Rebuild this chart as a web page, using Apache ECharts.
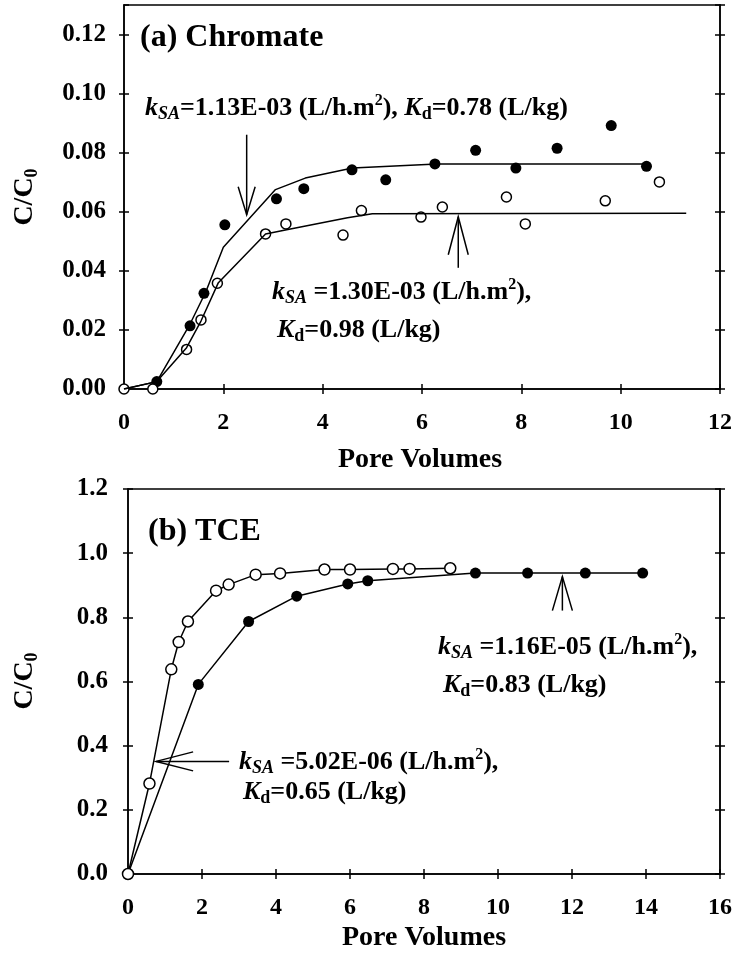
<!DOCTYPE html>
<html>
<head>
<meta charset="utf-8">
<script src="https://cdn.jsdelivr.net/npm/echarts@6/dist/echarts.min.js"></script>
<style>
  html, body { margin: 0; padding: 0; background: #fff; }
  #main { width: 735px; height: 960px; }
</style>
</head>
<body>
<div id="main"></div>
<script>
// (a) Chromate - measured points
const crFilledX = [0.66, 1.33, 1.61, 2.03, 3.07, 3.62, 4.59, 5.27, 6.26, 7.08, 7.89, 8.72, 9.81, 10.52]
const crFilledY = [0.0025, 0.0214, 0.0324, 0.0556, 0.0644, 0.0678, 0.0742, 0.0708, 0.0762, 0.0808, 0.0748, 0.0815, 0.0892, 0.0754]
const crOpenX = [0, 0.58, 1.26, 1.55, 1.88, 2.85, 3.26, 4.41, 4.78, 5.98, 6.41, 7.70, 8.08, 9.69, 10.78]
const crOpenY = [0, 0, 0.0134, 0.0234, 0.0358, 0.0525, 0.0559, 0.0521, 0.0604, 0.0582, 0.0616, 0.0650, 0.0559, 0.0637, 0.0701]
// (a) model fits
const crFitUpperX = [0, 0.66, 1.33, 1.65, 2.0, 3.05, 3.65, 4.6, 6.3, 10.52]
const crFitUpperY = [0, 0.0025, 0.022, 0.033, 0.048, 0.0675, 0.0714, 0.0748, 0.0762, 0.0762]
const crFitLowerX = [0, 0.66, 1.26, 1.55, 1.9, 2.85, 3.3, 4.5, 5.0, 11.32]
const crFitLowerY = [0, 0.0025, 0.014, 0.023, 0.036, 0.0525, 0.054, 0.058, 0.0593, 0.0595]

// (b) TCE
const tceOpenX = [0, 0.58, 1.17, 1.37, 1.62, 2.38, 2.72, 3.45, 4.11, 5.31, 6.0, 7.16, 7.61, 8.71]
const tceOpenY = [0, 0.282, 0.638, 0.723, 0.787, 0.883, 0.902, 0.933, 0.937, 0.949, 0.949, 0.951, 0.951, 0.953]
const tceFilledX = [0, 1.90, 3.26, 4.56, 5.94, 6.48, 9.39, 10.8, 12.36, 13.91]
const tceFilledY = [0, 0.591, 0.787, 0.866, 0.904, 0.914, 0.938, 0.938, 0.938, 0.938]

const serif = "'Liberation Serif', 'Times New Roman', serif"
const black = '#000'

const zip = (xs, ys) => xs.map((x, i) => [x, ys[i]])

const line = { color: black, width: 1.5 }

function xAxes(grid, max) {
  const base = {
    gridIndex: grid, type: 'value', min: 0, max: max, interval: 2,
    axisLine: { onZero: false, lineStyle: line },
    splitLine: { show: false }
  }
  return [
    Object.assign({}, base, {
      position: 'bottom',
      axisTick: { length: 5, lineStyle: line },
      axisLabel: { color: black, fontFamily: serif, fontWeight: 'bold', fontSize: 24, margin: 22 }
    }),
    Object.assign({}, base, {
      position: 'bottom',
      axisTick: { inside: true, length: 5, lineStyle: line },
      axisLabel: { show: false }
    }),
    Object.assign({}, base, {
      position: 'top',
      axisTick: { show: false },
      axisLabel: { show: false }
    })
  ]
}

function yAxes(grid, max, interval, digits, margin) {
  const base = {
    gridIndex: grid, type: 'value', min: 0, max: max, interval: interval,
    axisLine: { onZero: false, lineStyle: line },
    splitLine: { show: false }
  }
  return [
    Object.assign({}, base, {
      position: 'left',
      axisTick: { length: 5, lineStyle: line },
      axisLabel: {
        color: black, fontFamily: serif, fontWeight: 'bold', fontSize: 25, margin: margin,
        showMaxLabel: digits === 1,
        formatter: v => v.toFixed(digits)
      }
    }),
    Object.assign({}, base, {
      position: 'left',
      axisTick: { inside: true, length: 5, lineStyle: line },
      axisLabel: { show: false }
    }),
    Object.assign({}, base, {
      position: 'right',
      axisTick: { length: 5, lineStyle: line },
      axisLabel: { show: false }
    }),
    Object.assign({}, base, {
      position: 'right',
      axisTick: { inside: true, length: 5, lineStyle: line },
      axisLabel: { show: false }
    })
  ]
}

const chart = echarts.init(document.getElementById('main'))

chart.setOption({
  animation: false,
  backgroundColor: '#fff',
  grid: [
    { left: 124, right: 14, top: 5, bottom: 571 },
    { left: 128, right: 14, top: 489, bottom: 86 }
  ],
  xAxis: xAxes(0, 12).concat(xAxes(1, 16)),
  yAxis: yAxes(0, 0.13, 0.02, 2, 18).concat(yAxes(1, 1.2, 0.2, 1, 20)),
  series: [
    {
      type: 'line', xAxisIndex: 0, yAxisIndex: 0,
      data: zip(crFitUpperX, crFitUpperY),
      showSymbol: false, lineStyle: line
    },
    {
      type: 'line', xAxisIndex: 0, yAxisIndex: 0,
      data: zip(crFitLowerX, crFitLowerY),
      showSymbol: false, lineStyle: line
    },
    {
      type: 'scatter', xAxisIndex: 0, yAxisIndex: 0,
      data: zip(crFilledX, crFilledY),
      symbolSize: 11, itemStyle: { color: black, opacity: 1 }
    },
    {
      type: 'scatter', xAxisIndex: 0, yAxisIndex: 0,
      data: zip(crOpenX, crOpenY),
      symbolSize: 10, itemStyle: { color: '#fff', borderColor: black, borderWidth: 1.5, opacity: 1 }
    },
    {
      type: 'line', xAxisIndex: 3, yAxisIndex: 4,
      data: zip(tceFilledX, tceFilledY),
      symbol: 'circle', symbolSize: 11, lineStyle: line,
      itemStyle: { color: black }
    },
    {
      type: 'line', xAxisIndex: 3, yAxisIndex: 4,
      data: zip(tceOpenX, tceOpenY),
      symbol: 'circle', symbolSize: 11, lineStyle: line,
      itemStyle: { color: '#fff', borderColor: black, borderWidth: 1.5 }
    }
  ]
})

// rich text styles for the annotations
const rich = {
  n: { fontFamily: serif, fontWeight: 'bold', fontSize: 26, lineHeight: 30, fill: black },
  i: { fontFamily: serif, fontWeight: 'bold', fontStyle: 'italic', fontSize: 26, lineHeight: 30, fill: black },
  isub: { fontFamily: serif, fontWeight: 'bold', fontStyle: 'italic', fontSize: 18, lineHeight: 17, verticalAlign: 'bottom', fill: black },
  sub: { fontFamily: serif, fontWeight: 'bold', fontSize: 18, lineHeight: 17, verticalAlign: 'bottom', fill: black },
  sup: { fontFamily: serif, fontWeight: 'bold', fontSize: 16, lineHeight: 15, verticalAlign: 'top', fill: black },
  big: { fontFamily: serif, fontWeight: 'bold', fontSize: 32, lineHeight: 36, fill: black },
  axis: { fontFamily: serif, fontWeight: 'bold', fontSize: 28, lineHeight: 32, fill: black },
  axsub: { fontFamily: serif, fontWeight: 'bold', fontSize: 18, lineHeight: 18, verticalAlign: 'bottom', fill: black }
}

function text(x, y, str, align) {
  return {
    type: 'text', x: x, y: y, z: 10,
    style: { text: str, rich: rich, align: align || 'left', verticalAlign: 'middle' }
  }
}

// arrow: tip in data coords, dir = unit vector from tail to tip (screen)
function arrow(grid, tip, dir, shaft, head, half) {
  const p = chart.convertToPixel({ gridIndex: grid }, tip)
  const bx = p[0] - dir[0] * head
  const by = p[1] - dir[1] * head
  const nx = -dir[1] * half
  const ny = dir[0] * half
  const st = { stroke: black, lineWidth: 1.5, fill: null }
  return [
    { type: 'polyline', z: 10, shape: { points: [[p[0] - dir[0] * shaft, p[1] - dir[1] * shaft], p] }, style: st },
    { type: 'polyline', z: 10, shape: { points: [[bx + nx, by + ny], p, [bx - nx, by - ny]] }, style: st }
  ]
}

const kLine = val => '{i|k}{isub|SA}{n| =' + val + ' (L/h.m}{sup|2}{n|),}'
const kdLine = val => '{i|K}{sub|d}{n|=' + val + ' (L/kg)}'
const cc0 = '{axis|C/C}{axsub|0}'

const yName = (x, y) => Object.assign(text(x, y, cc0, 'center'), { rotation: Math.PI / 2 })

chart.setOption({
  graphic: [
    text(140, 38, '{big|(a) Chromate}'),
    text(145, 108, '{i|k}{isub|SA}{n|=1.13E-03 (L/h.m}{sup|2}{n|), }' + kdLine('0.78')),
    text(272, 292, kLine('1.30E-03')),
    text(277, 330, kdLine('0.98')),
    text(148, 532, '{big|(b) TCE}'),
    text(438, 647, kLine('1.16E-05')),
    text(443, 685, kdLine('0.83')),
    text(239, 762, kLine('5.02E-06')),
    text(243, 792, kdLine('0.65')),
    yName(25, 197),
    yName(25, 681),
    text(420, 460, '{axis|Pore Volumes}', 'center'),
    text(424, 938, '{axis|Pore Volumes}', 'center')
  ]
    .concat(arrow(0, [2.47, 0.059], [0, 1], 80, 28, 8.5))
    .concat(arrow(0, [6.73, 0.0583], [0, -1], 51, 38, 10))
    .concat(arrow(1, [11.74, 0.927], [0, -1], 34, 34, 10))
    .concat(arrow(1, [0.76, 0.351], [-1, 0], 73, 37, 9.5))
})
</script>
</body>
</html>
